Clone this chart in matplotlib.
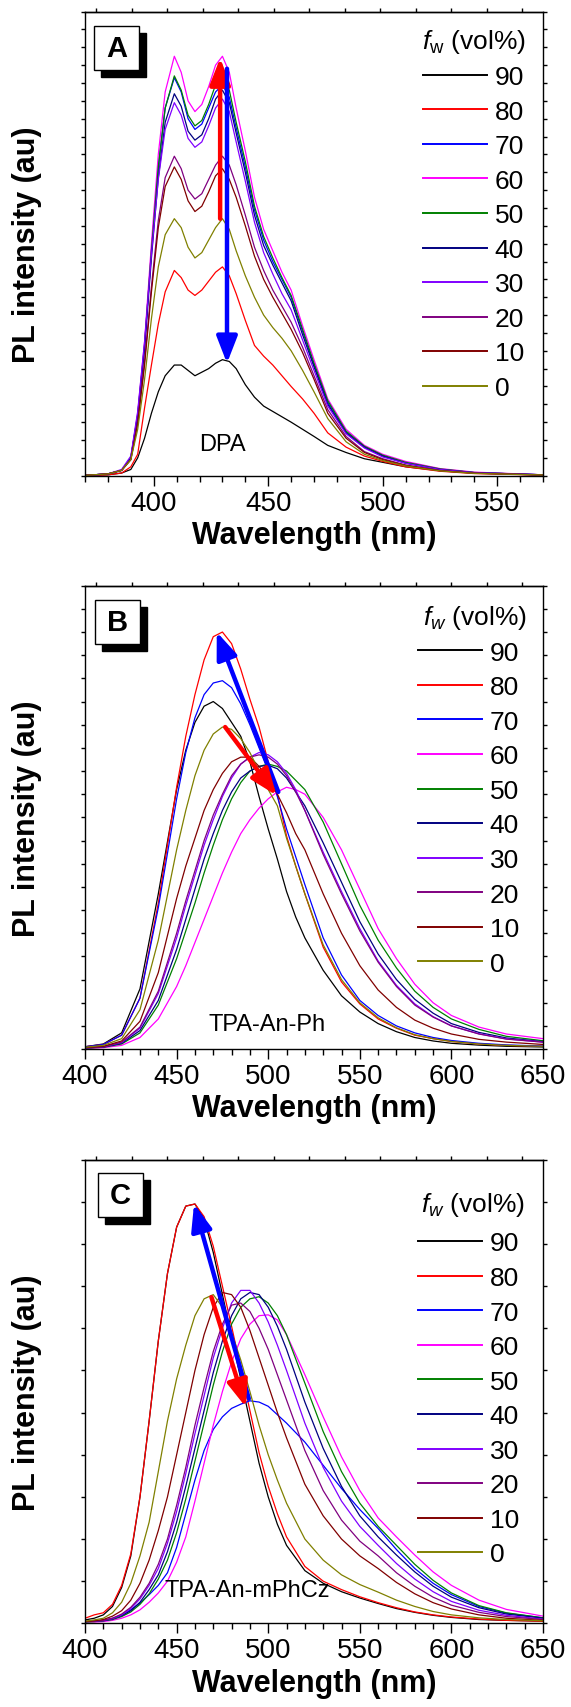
import matplotlib
matplotlib.use('Agg')
import matplotlib.pyplot as plt
from matplotlib.patches import Rectangle
from matplotlib.ticker import MultipleLocator, NullFormatter

plt.rcParams['font.family'] = ['Liberation Sans', 'DejaVu Sans']
plt.rcParams['mathtext.fontset'] = 'custom'
plt.rcParams['mathtext.rm'] = 'Liberation Sans'
plt.rcParams['mathtext.it'] = 'Liberation Sans:italic'
plt.rcParams['mathtext.bf'] = 'Liberation Sans:bold'

# water fraction labels and line colours (legend order)
fw = ['90', '80', '70', '60', '50', '40', '30', '20', '10', '0']
line_colors = ['#000000', '#ff0000', '#0000ff', '#ff00ff', '#008000',
               '#000080', '#8000ff', '#800080', '#800000', '#808000']

# ---- panel A : DPA ----
wl_a = [370, 380, 386, 390, 393, 396, 399, 402, 405, 409, 412, 415, 418, 421, 424, 427, 430, 433,
        436, 440, 444, 448, 452, 456, 460, 465, 470, 476, 484, 492, 500, 510, 525, 540, 570]
a_90 = [0.01, 0.05, 0.15, 0.35, 1.0, 2.1, 3.5, 4.7, 5.6, 6.2, 6.2, 5.9, 5.6, 5.8, 6.0, 6.3, 6.5, 6.4,
        6.0, 5.1, 4.4, 3.9, 3.6, 3.3, 3.0, 2.6, 2.2, 1.7, 1.3, 0.95, 0.75, 0.5, 0.28, 0.15, 0.04]
a_80 = [0.01, 0.05, 0.15, 0.5, 1.2, 3.8, 6.2, 8.5, 10.3, 11.5, 11.1, 10.4, 10.1, 10.4, 10.9, 11.4, 11.7, 11.2,
        10.2, 8.7, 7.3, 6.7, 6.2, 5.6, 5.0, 4.3, 3.5, 2.4, 1.6, 1.1, 0.8, 0.5, 0.25, 0.12, 0.03]
a_70 = [0.02, 0.1, 0.3, 1.0, 3.4, 7.3, 12.6, 17.3, 20.6, 22.3, 21.5, 20.0, 19.4, 19.7, 20.6, 21.5, 21.9, 21.2,
        19.5, 17.3, 14.9, 13.2, 12.0, 11.0, 10.0, 8.1, 6.2, 4.1, 2.45, 1.6, 1.1, 0.72, 0.36, 0.17, 0.05]
a_60 = [0.02, 0.1, 0.3, 1.0, 3.5, 7.5, 13.0, 18.0, 21.5, 23.5, 22.6, 21.0, 20.4, 20.8, 21.8, 23.0, 23.5, 22.6,
        20.6, 18.2, 15.6, 13.8, 12.6, 11.4, 10.4, 8.4, 6.5, 4.3, 2.6, 1.7, 1.2, 0.8, 0.4, 0.2, 0.05]
a_50 = [0.02, 0.1, 0.3, 1.0, 3.4, 7.3, 12.6, 17.3, 20.6, 22.4, 21.6, 20.2, 19.6, 19.9, 20.8, 21.9, 22.3, 21.6,
        19.8, 17.6, 15.1, 13.4, 12.2, 11.1, 10.1, 8.2, 6.3, 4.2, 2.5, 1.65, 1.15, 0.75, 0.38, 0.18, 0.05]
a_40 = [0.02, 0.1, 0.3, 1.0, 3.3, 7.1, 12.2, 16.7, 19.8, 21.4, 20.7, 19.3, 18.8, 19.1, 20.0, 21.1, 21.6, 20.9,
        19.2, 17.0, 14.6, 12.9, 11.8, 10.8, 9.8, 7.9, 6.1, 4.0, 2.4, 1.6, 1.1, 0.7, 0.35, 0.17, 0.05]
a_30 = [0.02, 0.1, 0.35, 1.1, 3.6, 7.5, 12.4, 16.6, 19.4, 20.9, 20.2, 18.9, 18.4, 18.7, 19.6, 20.6, 21.1, 20.4,
        18.7, 16.5, 14.2, 12.5, 11.3, 10.2, 9.3, 7.6, 5.9, 3.9, 2.35, 1.55, 1.05, 0.7, 0.35, 0.17, 0.05]
a_20 = [0.02, 0.1, 0.3, 0.9, 3.0, 6.4, 10.6, 14.3, 16.7, 17.9, 17.2, 16.0, 15.5, 15.8, 16.6, 17.4, 17.9, 17.4,
        16.3, 14.6, 12.8, 11.5, 10.4, 9.5, 8.6, 7.2, 5.6, 3.7, 2.2, 1.35, 0.95, 0.6, 0.3, 0.15, 0.04]
a_10 = [0.02, 0.1, 0.3, 0.9, 2.9, 6.2, 10.3, 13.9, 16.2, 17.3, 16.6, 15.4, 14.8, 15.1, 15.9, 16.8, 17.2, 16.6,
        15.6, 14.0, 12.3, 11.0, 10.0, 9.1, 8.2, 6.9, 5.4, 3.5, 2.1, 1.3, 0.9, 0.58, 0.28, 0.14, 0.04]
a_0 = [0.02, 0.1, 0.3, 0.9, 2.6, 5.4, 8.8, 11.7, 13.5, 14.4, 13.9, 12.8, 12.2, 12.5, 13.2, 13.9, 14.4, 13.8,
       12.6, 11.2, 10.0, 9.0, 8.3, 7.7, 7.0, 5.9, 4.7, 3.2, 1.9, 1.2, 0.85, 0.55, 0.27, 0.13, 0.04]

# ---- panel B : TPA-An-Ph ----
wl_b = [400, 410, 420, 430, 440, 450, 455, 460, 465, 470, 475, 480, 485, 490, 495, 500,
        505, 510, 515, 520, 530, 540, 550, 560, 570, 580, 590, 600, 615, 630, 650]
b_90 = [0.1, 0.22, 0.7, 2.6, 6.7, 11.2, 12.9, 14.1, 14.8, 15.0, 14.7, 14.1, 13.5, 12.4, 10.9, 9.5,
        8.2, 6.8, 5.7, 4.8, 3.4, 2.3, 1.6, 1.1, 0.75, 0.5, 0.35, 0.25, 0.17, 0.12, 0.09]
b_80 = [0.1, 0.2, 0.6, 2.2, 6.3, 11.3, 13.5, 15.3, 16.8, 17.8, 18.0, 17.5, 16.4, 15.1, 13.9, 12.4,
        11.0, 9.2, 7.9, 6.7, 4.4, 2.9, 1.95, 1.3, 0.9, 0.6, 0.45, 0.33, 0.22, 0.16, 0.12]
b_70 = [0.1, 0.2, 0.6, 2.2, 6.1, 10.8, 12.8, 14.3, 15.3, 15.8, 15.9, 15.6, 14.9, 14.0, 13.0, 12.0,
        10.9, 9.5, 8.3, 7.1, 4.8, 3.2, 2.1, 1.45, 1.0, 0.7, 0.5, 0.37, 0.25, 0.18, 0.13]
b_60 = [0.03, 0.06, 0.16, 0.5, 1.3, 2.7, 3.6, 4.6, 5.6, 6.6, 7.6, 8.5, 9.3, 9.9, 10.4, 10.8,
        11.1, 11.3, 11.2, 11.0, 10.0, 8.6, 6.9, 5.2, 3.9, 2.8, 2.0, 1.45, 0.95, 0.65, 0.45]
b_50 = [0.04, 0.08, 0.22, 0.7, 1.9, 3.9, 5.1, 6.3, 7.6, 8.8, 9.9, 10.8, 11.5, 12.0, 12.2, 12.3,
        12.2, 12.0, 11.6, 11.2, 9.8, 8.0, 6.2, 4.7, 3.5, 2.5, 1.8, 1.3, 0.85, 0.55, 0.36]
b_40 = [0.05, 0.09, 0.25, 0.8, 2.1, 4.3, 5.6, 6.9, 8.2, 9.3, 10.3, 11.1, 11.7, 12.0, 12.2, 12.25,
        12.1, 11.7, 11.1, 10.5, 8.9, 7.2, 5.5, 4.1, 3.0, 2.15, 1.55, 1.1, 0.72, 0.48, 0.32]
b_30 = [0.05, 0.1, 0.28, 0.9, 2.4, 4.8, 6.2, 7.5, 8.8, 9.9, 10.9, 11.7, 12.3, 12.6, 12.8, 12.7,
        12.4, 11.9, 11.2, 10.3, 8.5, 6.8, 5.2, 3.8, 2.75, 1.95, 1.4, 1.0, 0.66, 0.44, 0.3]
b_20 = [0.05, 0.1, 0.3, 0.95, 2.5, 5.0, 6.4, 7.7, 9.0, 10.1, 11.0, 11.8, 12.3, 12.6, 12.7, 12.6,
        12.3, 11.8, 11.1, 10.3, 8.4, 6.7, 5.1, 3.75, 2.7, 1.9, 1.38, 1.0, 0.65, 0.43, 0.3]
b_10 = [0.06, 0.12, 0.35, 1.2, 3.3, 6.5, 7.9, 9.1, 10.3, 11.2, 11.9, 12.4, 12.6, 12.6, 12.2, 11.7,
        11.0, 10.2, 9.3, 8.6, 6.7, 5.0, 3.6, 2.55, 1.8, 1.25, 0.9, 0.65, 0.42, 0.3, 0.2]
b_0 = [0.08, 0.16, 0.45, 1.7, 4.7, 8.6, 10.3, 11.8, 12.9, 13.6, 13.9, 13.8, 13.4, 12.8, 12.0, 11.2,
       10.5, 9.1, 7.9, 6.7, 4.5, 3.0, 2.0, 1.35, 0.92, 0.62, 0.45, 0.33, 0.22, 0.16, 0.12]

# ---- panel C : TPA-An-mPhCz ----
wl_c = [400, 405, 410, 415, 420, 425, 430, 435, 440, 445, 450, 455, 460, 465, 470, 475, 480, 485,
        490, 495, 500, 505, 510, 520, 530, 540, 550, 560, 570, 580, 590, 600, 615, 630, 650]
c_90 = [0.08, 0.12, 0.2, 0.4, 0.85, 1.6, 3.0, 4.8, 6.7, 8.3, 9.4, 9.9, 9.95, 9.6, 8.8, 7.8, 6.8, 5.8,
        4.8, 3.8, 3.0, 2.35, 1.85, 1.25, 0.95, 0.75, 0.6, 0.47, 0.35, 0.26, 0.19, 0.14, 0.09, 0.07, 0.05]
c_80 = [0.12, 0.2, 0.25, 0.45, 0.9, 1.65, 3.0, 4.8, 6.7, 8.3, 9.4, 9.9, 9.95, 9.65, 8.95, 8.0, 7.05, 6.05,
        5.05, 4.05, 3.25, 2.6, 2.05, 1.35, 1.0, 0.8, 0.63, 0.49, 0.37, 0.27, 0.2, 0.15, 0.1, 0.07, 0.05]
c_70 = [0.04, 0.05, 0.07, 0.12, 0.2, 0.32, 0.48, 0.68, 0.9, 1.2, 1.8, 2.6, 3.4, 4.1, 4.6, 4.9, 5.1, 5.2,
        5.28, 5.25, 5.15, 4.95, 4.75, 4.3, 3.75, 3.2, 2.7, 2.25, 1.75, 1.3, 0.95, 0.68, 0.4, 0.24, 0.13]
c_60 = [0.03, 0.03, 0.04, 0.07, 0.12, 0.2, 0.32, 0.5, 0.72, 1.0, 1.45, 2.05, 2.9, 3.8, 4.7, 5.5, 6.2, 6.75,
        7.1, 7.3, 7.32, 7.2, 6.85, 5.9, 4.9, 3.95, 3.15, 2.5, 2.05, 1.62, 1.22, 0.9, 0.55, 0.33, 0.17]
c_50 = [0.03, 0.04, 0.06, 0.09, 0.16, 0.27, 0.45, 0.7, 1.05, 1.5, 2.15, 2.95, 3.85, 4.75, 5.65, 6.45, 7.1, 7.5,
        7.7, 7.75, 7.6, 7.3, 6.85, 5.7, 4.55, 3.6, 2.85, 2.3, 1.85, 1.4, 1.02, 0.72, 0.42, 0.25, 0.13]
c_40 = [0.04, 0.05, 0.06, 0.1, 0.18, 0.3, 0.5, 0.8, 1.15, 1.7, 2.4, 3.25, 4.15, 5.05, 5.95, 6.7, 7.3, 7.7,
        7.85, 7.8, 7.5, 7.05, 6.5, 5.25, 4.15, 3.25, 2.55, 2.05, 1.62, 1.22, 0.88, 0.62, 0.37, 0.22, 0.12]
c_30 = [0.04, 0.05, 0.07, 0.11, 0.2, 0.35, 0.58, 0.9, 1.3, 1.9, 2.65, 3.55, 4.5, 5.4, 6.3, 7.0, 7.6, 7.9,
        7.9, 7.6, 7.15, 6.6, 6.0, 4.75, 3.7, 2.9, 2.3, 1.85, 1.42, 1.05, 0.75, 0.52, 0.31, 0.19, 0.1]
c_20 = [0.04, 0.05, 0.07, 0.12, 0.22, 0.38, 0.62, 0.95, 1.4, 2.0, 2.8, 3.7, 4.7, 5.6, 6.45, 7.1, 7.55, 7.6,
        7.4, 7.0, 6.5, 5.9, 5.3, 4.1, 3.15, 2.45, 1.95, 1.6, 1.2, 0.88, 0.62, 0.43, 0.26, 0.16, 0.09]
c_10 = [0.04, 0.06, 0.09, 0.17, 0.3, 0.55, 0.95, 1.5, 2.2, 3.0, 4.0, 5.0, 6.0, 6.85, 7.5, 7.85, 7.8, 7.5,
        6.95, 6.3, 5.65, 5.0, 4.4, 3.3, 2.55, 2.0, 1.6, 1.3, 0.97, 0.7, 0.49, 0.34, 0.2, 0.12, 0.07]
c_0 = [0.05, 0.08, 0.12, 0.25, 0.5, 0.95, 1.6, 2.4, 3.6, 4.8, 5.8, 6.6, 7.3, 7.7, 7.8, 7.5, 6.9, 6.25,
       5.5, 4.7, 4.0, 3.4, 2.85, 2.0, 1.5, 1.15, 0.92, 0.74, 0.55, 0.4, 0.28, 0.2, 0.13, 0.09, 0.06]

# small unlabeled ticks along the top frame (axes fraction)
top_ticks = [0.0249, 0.1024, 0.1799, 0.2574, 0.3349, 0.4124, 0.4899,
             0.5674, 0.6449, 0.7224, 0.7999, 0.8774, 0.9549]

fig = plt.figure(figsize=(5.71, 17.08), dpi=100)

panels = [
    dict(rect=[0.1489, 0.7209, 0.8021, 0.2717], wl=wl_a, xlim=(370, 570), ylim=(0, 26),
         series=[a_90, a_80, a_70, a_60, a_50, a_40, a_30, a_20, a_10, a_0],
         letter='A', box=(0.020, 0.970), title=r'$f_\mathrm{w}$ (vol%)',
         title_pos=(0.735, 0.937), leg=(0.738, 0.524),
         name='DPA', name_pos=(430, 0.068),
         arrows=[((429, 14.4), (429, 23.4), 'red'), ((432, 22.8), (432, 6.3), 'blue')]),
    dict(rect=[0.1489, 0.3852, 0.8021, 0.2713], wl=wl_b, xlim=(400, 650), ylim=(0, 20),
         series=[b_90, b_80, b_70, b_60, b_50, b_40, b_30, b_20, b_10, b_0],
         letter='B', box=(0.021, 0.970), title=r'$f_w$ (vol%)',
         title_pos=(0.737, 0.932), leg=(0.727, 0.520),
         name='TPA-An-Ph', name_pos=(499.5, 0.054),
         arrows=[((505.5, 11.1), (471.9, 18.0), 'blue'), ((476.5, 13.9), (504.5, 10.95), 'red')]),
    dict(rect=[0.1489, 0.0490, 0.8021, 0.2714], wl=wl_c, xlim=(400, 650), ylim=(0, 11),
         series=[c_90, c_80, c_70, c_60, c_50, c_40, c_30, c_20, c_10, c_0],
         letter='C', box=(0.029, 0.971), title=r'$f_w$ (vol%)',
         title_pos=(0.734, 0.904), leg=(0.727, 0.484),
         name='TPA-An-mPhCz', name_pos=(488.4, 0.072),
         arrows=[((489.4, 5.33), (459.5, 9.95), 'blue'), ((469.0, 7.74), (487.8, 5.13), 'red')]),
]

for p in panels:
    ax = fig.add_axes(p['rect'])
    for ys, col, lab in zip(p['series'], line_colors, fw):
        ax.plot(p['wl'], ys, color=col, lw=0.9, label=lab)
    ax.set_xlim(*p['xlim'])
    ax.set_ylim(*p['ylim'])

    ax.xaxis.set_major_locator(MultipleLocator(50))
    ax.xaxis.set_minor_locator(MultipleLocator(10))
    ax.yaxis.set_major_locator(MultipleLocator(1))
    ax.yaxis.set_major_formatter(NullFormatter())
    ax.tick_params(axis='x', which='major', direction='out', length=7, width=1.0,
                   labelsize=20, pad=3, top=False)
    ax.tick_params(axis='x', which='minor', direction='out', length=4, width=1.0, top=False)
    ax.tick_params(axis='y', which='major', direction='out', length=3, width=1.0,
                   left=True, right=True)
    for s in ax.spines.values():
        s.set_linewidth(1.0)

    # top frame ticks
    x0, x1 = p['xlim']
    sec = ax.secondary_xaxis('top', functions=(lambda x, a=x0, b=x1: (x - a) / (b - a),
                                               lambda f, a=x0, b=x1: a + f * (b - a)))
    sec.set_xticks(top_ticks)
    sec.tick_params(direction='out', length=3, width=1.0, labeltop=False)
    sec.spines['top'].set_linewidth(1.0)

    ax.set_xlabel('Wavelength (nm)', fontsize=22, fontweight='bold', va='center')
    ax.xaxis.set_label_coords(0.5, -0.128)
    ax.set_ylabel('PL intensity (au)', fontsize=22, fontweight='bold', va='center')
    ax.yaxis.set_label_coords(-0.126, 0.5)

    leg = ax.legend(loc='center left', bbox_to_anchor=p['leg'],
                    frameon=False, fontsize=19, handlelength=2.42,
                    handletextpad=0.3, labelspacing=0.40, borderpad=0, borderaxespad=0)
    for ln in leg.get_lines():
        ln.set_linewidth(1.4)
    ax.text(p['title_pos'][0], p['title_pos'][1], p['title'], transform=ax.transAxes,
            ha='left', va='center', fontsize=19)

    # letter box with drop shadow
    bx, by = p['box']
    bw, bh, dx, dy = 0.098, 0.095, 0.0153, 0.0151
    ax.add_patch(Rectangle((bx + dx, by - bh - dy), bw, bh, transform=ax.transAxes,
                           facecolor='black', edgecolor='black', zorder=6))
    ax.add_patch(Rectangle((bx, by - bh), bw, bh, transform=ax.transAxes,
                           facecolor='white', edgecolor='black', lw=1.0, zorder=7))
    ax.text(bx + bw / 2, by - bh / 2, p['letter'], transform=ax.transAxes, ha='center',
            va='center', fontsize=21, fontweight='bold', zorder=8)

    ax.text(p['name_pos'][0], p['name_pos'][1], p['name'], transform=ax.get_xaxis_transform(),
            ha='center', va='center', fontsize=17)

    for tail, head, col in p['arrows']:
        ax.annotate('', xy=head, xytext=tail,
                    arrowprops=dict(arrowstyle='-|>,head_length=0.9,head_width=0.35',
                                    color=col, lw=3.2, shrinkA=0, shrinkB=0, mutation_scale=18))

fig.savefig('out.png', dpi=100)
